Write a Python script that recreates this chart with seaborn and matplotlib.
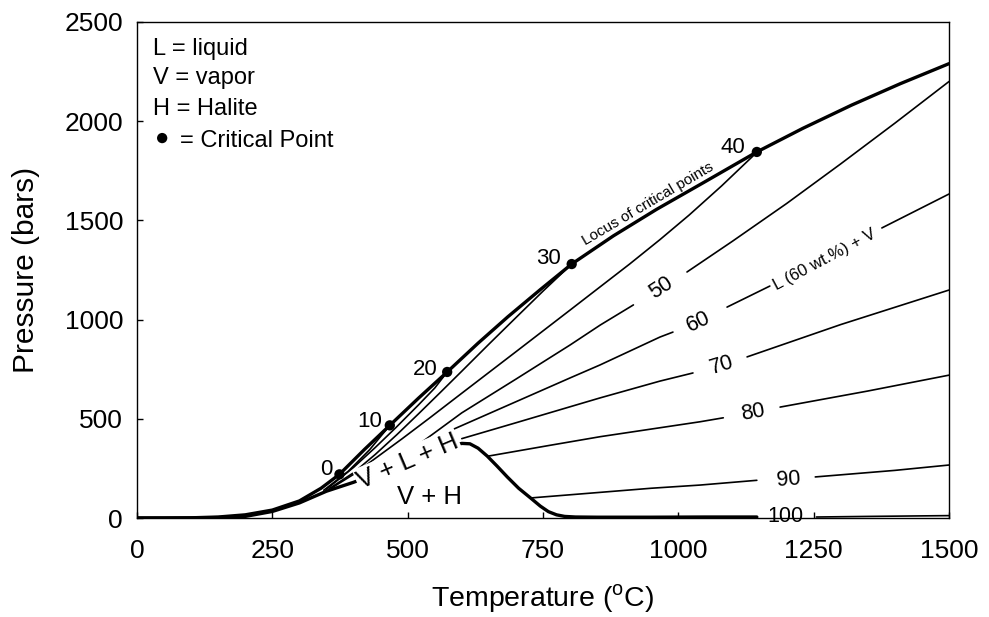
import numpy as np
import pandas as pd
import matplotlib
matplotlib.use("Agg")
import matplotlib.pyplot as plt
import seaborn as sns

# ---------------- data ----------------
# water boiling curve + locus of critical points (thick)
locus_T = [0, 50, 100, 150, 200, 250, 300, 340, 374, 420, 467, 520, 573, 630, 685,
           745, 803, 880, 960, 1050, 1145, 1230, 1320, 1410, 1500]
locus_P = [0, 0, 1, 5, 16, 40, 86, 150, 220, 345, 467, 604, 736, 881, 1014,
           1151, 1280, 1422, 1556, 1696, 1845, 1964, 2081, 2189, 2290]

# V+L+H three-phase curve, halite-liquidus drop and 100 wt.% line (thick)
halite_T = [0, 100, 150, 200, 250, 300, 350, 400, 450, 500, 550, 580, 600, 615,
            630, 647, 665, 684, 705, 727, 745, 760, 775, 790, 810, 850, 950, 1050, 1145]
halite_P = [0, 0.5, 2, 8, 33, 76, 135, 180, 232, 282, 332, 362, 376, 374,
            352, 312, 262, 207, 150, 101, 60, 32, 16, 8, 5, 4, 4, 5, 5]

# L + V curves (thin), split where labels interrupt them
wt10_T = [345, 390, 430, 467]
wt10_P = [140, 235, 345, 467]
wt20_T = [350, 400, 440, 478, 520, 550, 573]
wt20_P = [145, 255, 355, 455, 570, 655, 736]
wt30_T = [355, 400, 440, 480, 520, 560, 600, 650, 700, 751, 803]
wt30_P = [148, 228, 320, 420, 525, 632, 740, 876, 1010, 1146, 1280]
wt40_T = [360, 400, 440, 490, 540, 590, 634, 700, 800, 855, 910, 966, 1020, 1080, 1145]
wt40_P = [152, 220, 300, 400, 503, 608, 700, 838, 1048, 1164, 1280, 1403, 1527, 1674, 1843]
wt50_lo_T = [480, 520, 560, 600, 650, 700, 800, 856, 917]
wt50_lo_P = [300, 370, 450, 530, 615, 700, 872, 973, 1074]
wt50_hi_T = [1016, 1100, 1200, 1300, 1400, 1500]
wt50_hi_P = [1240, 1395, 1585, 1785, 1990, 2200]
wt60_lo_T = [545, 600, 660, 720, 800, 855, 966, 990]
wt60_lo_P = [400, 466, 538, 610, 706, 771, 912, 937]
wt60_mid_T = [1090, 1169]
wt60_mid_P = [1063, 1169]
wt60_hi_T = [1376, 1500]
wt60_hi_P = [1462, 1633]
wt70_lo_T = [600, 700, 855, 966, 1027]
wt70_lo_P = [400, 480, 605, 690, 731]
wt70_hi_T = [1127, 1300, 1500]
wt70_hi_P = [812, 975, 1149]
wt80_lo_T = [649, 760, 856, 1040, 1083]
wt80_lo_P = [312, 365, 410, 485, 505]
wt80_hi_T = [1188, 1350, 1500]
wt80_hi_P = [559, 640, 720]
wt90_lo_T = [727, 850, 950, 1040, 1145]
wt90_lo_P = [101, 128, 150, 166, 190]
wt90_hi_T = [1253, 1400, 1500]
wt90_hi_P = [207, 240, 267]
wt100_hi_T = [1255, 1350, 1500]
wt100_hi_P = [5, 8, 12]

# critical points
crit_T = [374, 467, 573, 803, 1145]
crit_P = [220, 467, 736, 1280, 1845]
crit_labels = ["0", "10", "20", "30", "40"]
crit_label_T = [350, 430, 532, 760, 1101]
crit_label_P = [242, 484, 746, 1310, 1865]

# composition labels on the curves
comp_labels = ["50", "60", "70", "80", "90", "100"]
comp_label_T = [969, 1037, 1080, 1138, 1203, 1198]
comp_label_P = [1158, 989, 771, 533, 195, 6]
comp_label_rot = [33, 25, 17, 10, 4, 0]

x_ticks = [0, 250, 500, 750, 1000, 1250, 1500]
y_ticks = [0, 500, 1000, 1500, 2000, 2500]

# ---------------- build long tables ----------------
def seg(name, T, P):
    return pd.DataFrame({"T": T, "P": P, "seg": name})

thick = pd.concat([seg("locus", locus_T, locus_P),
                   seg("halite", halite_T, halite_P)], ignore_index=True)
thin = pd.concat([
    seg("10", wt10_T, wt10_P), seg("20", wt20_T, wt20_P),
    seg("30", wt30_T, wt30_P), seg("40", wt40_T, wt40_P),
    seg("50a", wt50_lo_T, wt50_lo_P), seg("50b", wt50_hi_T, wt50_hi_P),
    seg("60a", wt60_lo_T, wt60_lo_P), seg("60b", wt60_mid_T, wt60_mid_P),
    seg("60c", wt60_hi_T, wt60_hi_P),
    seg("70a", wt70_lo_T, wt70_lo_P), seg("70b", wt70_hi_T, wt70_hi_P),
    seg("80a", wt80_lo_T, wt80_lo_P), seg("80b", wt80_hi_T, wt80_hi_P),
    seg("90a", wt90_lo_T, wt90_lo_P), seg("90b", wt90_hi_T, wt90_hi_P),
    seg("100b", wt100_hi_T, wt100_hi_P),
], ignore_index=True)
crit = pd.DataFrame({"T": crit_T, "P": crit_P})

# ---------------- style ----------------
sns.set_theme(style="white")
plt.rcParams["font.family"] = ["Liberation Sans", "DejaVu Sans"]
plt.rcParams["mathtext.fontset"] = "custom"
plt.rcParams["mathtext.rm"] = "Liberation Sans"
plt.rcParams["text.color"] = "black"
plt.rcParams["axes.labelcolor"] = "black"
plt.rcParams["xtick.color"] = "black"
plt.rcParams["ytick.color"] = "black"

fig = plt.figure(figsize=(9.89, 6.17), dpi=100)
ax = fig.add_axes([137 / 989, 1 - 518 / 617, 812 / 989, 496 / 617])

sns.lineplot(data=thin, x="T", y="P", units="seg", estimator=None, sort=False,
             color="black", linewidth=1.2, ax=ax, zorder=2)
sns.lineplot(data=thick, x="T", y="P", units="seg", estimator=None, sort=False,
             color="black", linewidth=2.4, ax=ax, zorder=3)
sns.scatterplot(data=crit, x="T", y="P", color="black", s=55, edgecolor="none",
                ax=ax, zorder=5)

ax.set_xlim(0, 1500)
ax.set_ylim(0, 2500)
ax.set_xticks(x_ticks)
ax.set_yticks(y_ticks)
ax.tick_params(direction="in", length=4, width=1, colors="black",
               labelsize=19, bottom=True, left=True)
ax.tick_params(axis="x", pad=15)
ax.tick_params(axis="y", pad=10)
for s in ax.spines.values():
    s.set_color("black")
    s.set_linewidth(1.0)

ax.set_xlabel("Temperature ($^{\\mathrm{o}}$C)", fontsize=20.5, color="black")
ax.set_ylabel("Pressure (bars)", fontsize=21.5, color="black")
ax.xaxis.set_label_coords(0.5, -0.13)
ax.yaxis.set_label_coords(-0.12, 0.5)

# critical-point labels
for lab, t, p in zip(crit_labels, crit_label_T, crit_label_P):
    ax.text(t, p, lab, fontsize=16, ha="center", va="center", zorder=6)

# composition labels
for lab, t, p, r in zip(comp_labels, comp_label_T, comp_label_P, comp_label_rot):
    ax.text(t, p, lab, fontsize=15.5, ha="center", va="center", rotation=r,
            rotation_mode="anchor", zorder=6)

ax.text(944, 1585, "Locus of critical points", fontsize=11, ha="center",
        va="center", rotation=30.5, rotation_mode="anchor", zorder=6)
ax.text(1271, 1303, "L (60 wt.%) + V", fontsize=12, ha="center", va="center",
        rotation=28, rotation_mode="anchor", zorder=6)
ax.text(500, 287, "V + L + H", fontsize=18.5, ha="center", va="center",
        rotation=23, rotation_mode="anchor", zorder=6,
        bbox=dict(facecolor="white", edgecolor="none", pad=1.0))
ax.text(540, 106, "V + H", fontsize=18.5, ha="center", va="center", zorder=6)

# key in the upper-left corner
key_y = [0.933, 0.876, 0.8125]
for txt, y in zip(["L = liquid", "V = vapor", "H = Halite"], key_y):
    ax.text(0.0197, y, txt, transform=ax.transAxes, fontsize=17,
            ha="left", va="baseline")
ax.text(0.053, 0.7486, "= Critical Point", transform=ax.transAxes, fontsize=17,
        ha="left", va="baseline")
ax.scatter([0.031], [0.766], transform=ax.transAxes, s=55, color="black",
           edgecolor="none", zorder=6)

fig.savefig("out.png", dpi=100)
